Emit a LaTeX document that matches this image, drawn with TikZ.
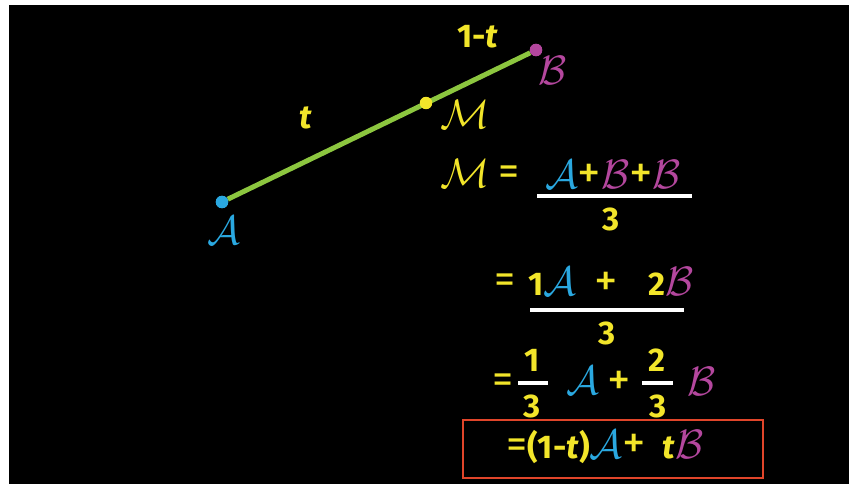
\RequirePackage{fix-cm}
\documentclass[tikz,border=0pt]{standalone}
\usepackage{fontspec}
\setmainfont{Fira Sans}
\usepackage{xcolor}
\usepackage{tikz}
\usetikzlibrary{positioning, calc}

\definecolor{boardyel}{HTML}{F2E52A}
\definecolor{boardblue}{HTML}{2AA8E0}
\definecolor{boardmag}{HTML}{B4479E}
\definecolor{boardgreen}{HTML}{8CC63F}
\definecolor{boardred}{HTML}{E0452A}

\newcommand{\hand}{\fontsize{28}{32}\selectfont\bfseries}
\newcommand{\letr}[1]{{\fontsize{35}{40}\selectfont$\mathcal{#1}$}}
\newcommand{\vA}{\textcolor{boardblue}{\letr{A}}}
\newcommand{\vB}{\textcolor{boardmag}{\letr{B}}}
\newcommand{\vt}{\textit{t}}
\newcommand{\pl}{{\fontsize{40}{40}\selectfont\mdseries+}}
\newcommand{\eqs}{{\fontsize{36}{40}\selectfont\mdseries=}}

\begin{document}
\begin{tikzpicture}[
    x=0.03cm, y=-0.03cm,
    dot/.style={circle,fill=#1,inner sep=0pt,minimum size=12.5*0.85pt},
    chalk/.style={inner sep=0pt,font=\hand,text=boardyel},
    fracbar/.style={draw=white,line width=3.5*0.85pt},
    seg/.style={draw=boardgreen,line width=5*0.85pt},
    answer/.style={draw=boardred,line width=1.6*0.85pt}
  ]
    \fill[white] (0,0) rectangle (849,484);
    \fill[black] (9,5) rectangle (849,484);
    \useasboundingbox (0,0) rectangle (849,484);

    % segment AB with midpoint M
    \node[dot=boardblue] (A) at (222,202) {};
    \node[dot=boardmag]  (B) at (536,50) {};
    \draw[seg] (A) -- (B);
    \node[dot=boardblue] at (A) {};
    \node[dot=boardmag] at (B) {};
    \node[dot=boardyel]  (M) at (426,103) {};

    \node[chalk] (labA) at (224,230) {\vA};
    \node[chalk] (labB) at (553,70) {\vB};
    \node[chalk] (labM) at (465,114) {\letr{M}};
    \node[chalk] (labt) at (306,118) {\vt};
    \node[chalk] (lab1t) at (478,37) {1-\vt};

    % first line: M = (A+B+B)/3
    \node[chalk] (Meq) at (465,173) {\letr{M}};
    \node[chalk] (eq1) at (509,176) {\eqs};
    \node[chalk] (num1) at (613,174) {\vA\pl\vB\pl\vB};
    \coordinate (bar1l) at (537,196);
    \coordinate (bar1r) at (692,196);
    \draw[fracbar] (bar1l) -- (bar1r);
    \node[chalk] (den1) at (611,219) {3};

    % second line
    \node[chalk] (eq2) at (505,284) {\eqs};
    \node[chalk] (num2a) at (552,281) {1\vA};
    \node[chalk] (plus2) at (606,284) {\pl};
    \node[chalk] (num2b) at (671,281) {2\vB};
    \coordinate (bar2l) at (530,310);
    \coordinate (bar2r) at (684,310);
    \draw[fracbar] (bar2l) -- (bar2r);
    \node[chalk] (den2) at (607,333) {3};

    % third line
    \node[chalk] (eq3) at (503,384) {\eqs};
    \node[chalk] (n3a) at (532,360) {1};
    \coordinate (bar3al) at (518,383);
    \coordinate (bar3ar) at (548,383);
    \draw[fracbar] (bar3al) -- (bar3ar);
    \node[chalk] (d3a) at (532,406) {3};
    \node[chalk] (A3) at (583,380) {\vA};
    \node[chalk] (plus3) at (619,383) {\pl};
    \node[chalk] (n3b) at (657,360) {2};
    \coordinate (bar3bl) at (642,383);
    \coordinate (bar3br) at (673,383);
    \draw[fracbar] (bar3bl) -- (bar3br);
    \node[chalk] (d3b) at (658,406) {3};
    \node[chalk] (B3) at (702,381) {\vB};

    % boxed result
    \node[answer,minimum width=300*0.03cm,minimum height=58*0.03cm] (res) at (613,449) {};
    \node[chalk] (restext) at (605,447) {\eqs(1-\vt)\vA\pl\enspace\vt\vB};
\end{tikzpicture}
\end{document}
